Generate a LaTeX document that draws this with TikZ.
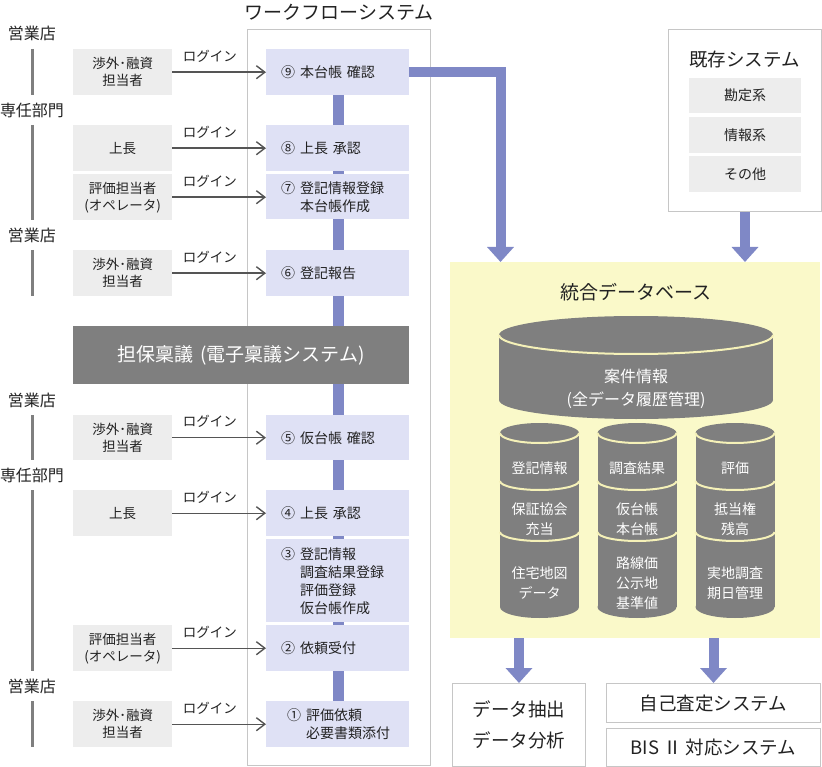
\documentclass[tikz,border=0pt]{standalone}
\usepackage{fontspec}
\setmainfont{Noto Sans CJK JP}
\usetikzlibrary{arrows.meta,calc,backgrounds}
\definecolor{stepc}{HTML}{DFE1F5}
\definecolor{barc}{HTML}{7F88C6}
\definecolor{lboxc}{HTML}{EDEDED}
\definecolor{darkc}{HTML}{7F7F7F}
\definecolor{yelc}{HTML}{FAF9C9}
\definecolor{bordc}{HTML}{C6C6C6}
\definecolor{txtc}{HTML}{222222}
\definecolor{sepc}{HTML}{F5F1B8}
\definecolor{arrc}{HTML}{555555}
\newcommand{\myfs}[2]{\fontsize{#1pt}{#2pt}\selectfont}
\newcommand{\cn}[1]{\makebox[19pt][l]{#1}}
\begin{document}
\begin{tikzpicture}[x=1pt,y=-1pt,
  every node/.style={text=txtc, inner sep=0pt},
  stepbox/.style={fill=stepc, anchor=north west, text width=113pt, inner xsep=15pt, inner ysep=0pt,
    align=left, minimum height=#1, font=\myfs{14}{18}},
  lbox/.style={fill=lboxc, anchor=north west, minimum width=99pt, minimum height=#1, align=center,
    font=\myfs{13.5}{17}},
  lab/.style={font=\myfs{16}{20}},
  ttl/.style={font=\myfs{19}{22}},
  frame/.style={draw=bordc, line width=1pt, anchor=north west},
  login/.style={draw=arrc, line width=1.4pt, -{Straight Barb[length=8.5pt,width=13pt]}},
  logtxt/.style={font=\myfs{13.5}{16}},
  bigarr/.style={draw=barc, line width=10pt, -{Triangle[length=15pt,width=26pt]}},
  vline/.style={draw=darkc, line width=3pt},
  cyltxt/.style={text=white, align=center, font=\myfs{14}{20}},
  sbox/.style={fill=lboxc, anchor=north west, minimum width=112pt, minimum height=#1, font=\myfs{14}{18}},
  obox/.style={draw=bordc, line width=1pt, anchor=north west, align=center, font=\myfs{18.5}{31}}
]
\useasboundingbox (0,0) rectangle (822,767);

% ---------- workflow system ----------
\node[ttl] (wftitle) at (339,12) {ワークフローシステム};
\node[frame, minimum width=183pt, minimum height=736pt] (wf) at (247,29) {};

\node[stepbox=46pt] (s9) at (266,49) {\cn{⑨}本台帳 確認};
\node[stepbox=46pt] (s8) at (266,125) {\cn{⑧}上長 承認};
\node[stepbox=45pt] (s7) at (266,174) {\cn{⑦}登記情報登録\\\hspace*{19pt}本台帳作成};
\node[stepbox=46pt] (s6) at (266,250) {\cn{⑥}登記報告};
\node[stepbox=45pt] (s5) at (266,415) {\cn{⑤}仮台帳 確認};
\node[stepbox=46pt] (s4) at (266,490) {\cn{④}上長 承認};
\node[stepbox=83pt] (s3) at (266,539) {\cn{③}登記情報\\\hspace*{19pt}調査結果登録\\\hspace*{19pt}評価登録\\\hspace*{19pt}仮台帳作成};
\node[stepbox=46pt] (s2) at (266,625) {\cn{②}依頼受付};
\node[stepbox=46pt] (s1) at (266,701) {\hspace*{6pt}\cn{①}評価依頼\\\hspace*{25pt}必要書類添付};

\begin{scope}[on background layer]
  \draw[draw=barc, line width=11pt] ($(s9.south)+(1,0)$) -- ($(s1.north)+(1,0)$);
\end{scope}

\node[fill=darkc, text=white, font=\myfs{19}{22}, anchor=north west, minimum width=336pt, minimum height=58pt] (ringi) at (73,326) {担保稟議\hspace{2pt} (電子稟議システム)};

% ---------- actors ----------
\node[lbox=46pt] (g9) at (73,49) {渉外･融資\\担当者};
\node[lbox=46pt] (g8) at (73,125) {上長};
\node[lbox=46pt] (g7) at (73,174) {評価担当者\\(オペレータ)};
\node[lbox=46pt] (g6) at (73,250) {渉外･融資\\担当者};
\node[lbox=45pt] (g5) at (73,415) {渉外･融資\\担当者};
\node[lbox=46pt] (g4) at (73,490) {上長};
\node[lbox=46pt] (g2) at (73,625) {評価担当者\\(オペレータ)};
\node[lbox=46pt] (g1) at (73,701) {渉外･融資\\担当者};

\foreach \g/\s in {g9/s9,g8/s8,g7/s7,g6/s6,g5/s5,g4/s4,g2/s2,g1/s1}{
  \draw[login] (\g.east) -- (\g.east -| \s.west) node[logtxt, pos=0.4, yshift=16pt] (lt\g) {ログイン};
}

% ---------- departments ----------
\node[lab] (L1) at (32,33) {営業店};
\node[lab] (L2) at (32,110) {専任部門};
\node[lab] (L3) at (32,235) {営業店};
\node[lab] (L4) at (32,400) {営業店};
\node[lab] (L5) at (32,475) {専任部門};
\node[lab] (L6) at (32,686) {営業店};

\draw[vline] (L1 |- g9.north) -- (L1 |- g9.south);
\draw[vline] (L2 |- g8.north) -- (L2 |- g7.south);
\draw[vline] (L3 |- g6.north) -- (L3 |- g6.south);
\draw[vline] (L4 |- g5.north) -- (L4 |- g5.south);
\draw[vline] (L5 |- g4.north) -- (L5 |- g2.south);
\draw[vline] (L6 |- g1.north) -- (L6 |- g1.south);

% ---------- existing systems ----------
\node[frame, minimum width=153pt, minimum height=182pt] (kizon) at (668,29) {};
\node[font=\myfs{18.5}{22}] (kizont) at (744.5,59) {既存システム};
\node[sbox=35pt] (k1) at (689,78) {勘定系};
\node[sbox=36pt] (k2) at (689,117) {情報系};
\node[sbox=36pt] (k3) at (689,156) {その他};

% ---------- integrated database ----------
\node[fill=yelc, anchor=north west, minimum width=370pt, minimum height=376pt] (db) at (450,262) {};
\node[ttl] (dbt) at (636,292) {統合データベース};

% big cylinder
\fill[darkc] (499,335) rectangle (773,400);
\fill[darkc] (636,335) ellipse [x radius=137, y radius=19];
\fill[darkc] (636,400) ellipse [x radius=137, y radius=19];
\draw[sepc, line width=2pt] (773,335) arc[start angle=0, end angle=180, x radius=137, y radius=19];
\node[text=white, align=center, font=\myfs{16}{23}] (case) at (636,389) {案件情報\\(全データ履歴管理)};

% small cylinders
\foreach \cx in {539.5,637,735}{
  \fill[darkc] (\cx-39.5,433) rectangle (\cx+39.5,607);
  \fill[darkc] (\cx,433) ellipse [x radius=39.5, y radius=10];
  \fill[darkc] (\cx,607) ellipse [x radius=39.5, y radius=11];
  \draw[sepc, line width=2pt] (\cx+39.5,433) arc[start angle=0, end angle=180, x radius=39.5, y radius=10];
  \draw[sepc, line width=2pt] (\cx+39.5,481) arc[start angle=0, end angle=180, x radius=39.5, y radius=9];
  \draw[sepc, line width=2pt] (\cx+39.5,532) arc[start angle=0, end angle=180, x radius=39.5, y radius=9];
}
\node[cyltxt] (c1a) at (539.5,468) {登記情報};
\node[cyltxt] (c1b) at (539.5,519) {保証協会\\充当};
\node[cyltxt] (c1c) at (539.5,583.5) {住宅地図\\データ};
\node[cyltxt] (c2a) at (637,468) {調査結果};
\node[cyltxt] (c2b) at (637,519) {仮台帳\\本台帳};
\node[cyltxt] (c2c) at (637,583) {路線価\\公示地\\基準値};
\node[cyltxt] (c3a) at (735,468) {評価};
\node[cyltxt] (c3b) at (735,519) {抵当権\\残高};
\node[cyltxt] (c3c) at (735,583.5) {実地調査\\期日管理};

% ---------- outputs ----------
\node[obox, minimum width=133pt, minimum height=83pt] (out1) at (452,683) {データ抽出\\データ分析};
\node[obox, minimum width=214pt, minimum height=39pt] (out2) at (606,683) {自己査定システム};
\node[obox, minimum width=214pt, minimum height=38pt] (out3) at (606,728) {BIS Ⅱ 対応システム};

% ---------- big arrows ----------
\draw[bigarr] (s9.east) -| ($(db.north west)+(50.5,0)$);
\draw[bigarr] (kizon.south) -- (kizon.south |- db.north);
\draw[bigarr] (db.south -| out1.north) -- (out1.north);
\draw[bigarr] (db.south -| out2.north) -- (out2.north);
\end{tikzpicture}
\end{document}
